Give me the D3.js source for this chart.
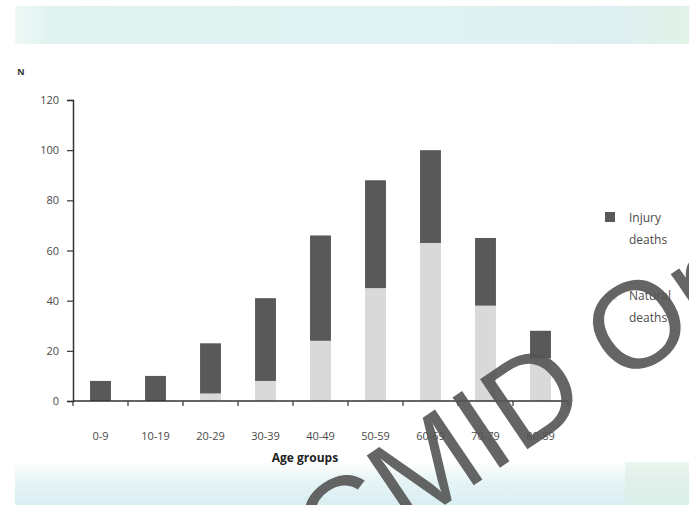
<!DOCTYPE html>
<html>
<head>
<meta charset="utf-8">
<script src="https://cdn.jsdelivr.net/npm/d3@7"></script>
<style>
  html, body { margin: 0; padding: 0; background: #ffffff; }
  svg { display: block; }
</style>
</head>
<body>
<svg id="chart" width="689" height="505"></svg>
<script>
const categories = ["0-9", "10-19", "20-29", "30-39", "40-49", "50-59", "60-69", "70-79", "80-89"];
const naturalDeaths = [0, 0, 3, 8, 24, 45, 63, 38, 17];
const injuryDeaths = [8, 10, 20, 33, 42, 43, 37, 27, 11];
const yTicks = [0, 20, 40, 60, 80, 100, 120];
const seriesNames = ["Injury deaths", "Natural deaths"];
const yLabel = "N";
const xLabel = "Age groups";
const watermark = "CMID Online";

const svg = d3.select("#chart");
const W = 689, H = 505;

// background bands
const defs = svg.append("defs");
const gTop = defs.append("linearGradient").attr("id", "topband").attr("x1", 0).attr("x2", 1).attr("y1", 0).attr("y2", 0);
gTop.append("stop").attr("offset", "0%").attr("stop-color", "#eef8f6");
gTop.append("stop").attr("offset", "5%").attr("stop-color", "#e0f3f0");
gTop.append("stop").attr("offset", "90%").attr("stop-color", "#dff0f2");
gTop.append("stop").attr("offset", "100%").attr("stop-color", "#e2f2e6");
const gBot = defs.append("linearGradient").attr("id", "botband").attr("x1", 0).attr("x2", 0).attr("y1", 0).attr("y2", 1);
gBot.append("stop").attr("offset", "0%").attr("stop-color", "#ffffff");
gBot.append("stop").attr("offset", "45%").attr("stop-color", "#e6f4f5");
gBot.append("stop").attr("offset", "100%").attr("stop-color", "#d9eef3");

svg.append("rect").attr("x", 15).attr("y", 6).attr("width", W - 15).attr("height", 38).attr("fill", "url(#topband)");
svg.append("rect").attr("x", 15).attr("y", 462).attr("width", W - 15).attr("height", 43).attr("fill", "url(#botband)");
svg.append("rect").attr("x", 625).attr("y", 462).attr("width", 64).attr("height", 43).attr("fill", "#dcefe2").attr("opacity", 0.6);

const x = d3.scaleBand().domain(categories).range([73, 568]).paddingInner(0.62).paddingOuter(0.31);
const y = d3.scaleLinear().domain([0, 120]).range([401, 100]);

const darkColor = "#595959";
const lightColor = "#d9d9d9";

// bars
const g = svg.append("g");
categories.forEach((c, i) => {
  const n = naturalDeaths[i], inj = injuryDeaths[i];
  if (n > 0) {
    g.append("rect").attr("x", x(c)).attr("width", x.bandwidth())
      .attr("y", y(n)).attr("height", y(0) - y(n)).attr("fill", lightColor);
  }
  g.append("rect").attr("x", x(c)).attr("width", x.bandwidth())
    .attr("y", y(n + inj)).attr("height", y(n) - y(n + inj)).attr("fill", darkColor);
});

// y axis
const yAxis = svg.append("g").attr("transform", "translate(73,0)")
  .call(d3.axisLeft(y).tickValues(yTicks).tickSize(6).tickPadding(8));
yAxis.select(".domain").attr("stroke", "#333").attr("stroke-width", 1.5);
yAxis.selectAll(".tick line").attr("stroke", "#333").attr("stroke-width", 1.2);
yAxis.selectAll(".tick text").attr("fill", "#4a4a4a").style("font-family", "Open Sans, sans-serif").style("font-size", "11px");

// x axis line and boundary ticks
const step = x.step();
const x0 = x.range()[0];
svg.append("line").attr("x1", x0).attr("x2", x.range()[1]).attr("y1", y(0)).attr("y2", y(0))
  .attr("stroke", "#333").attr("stroke-width", 1.5);
d3.range(categories.length + 1).forEach(i => {
  svg.append("line").attr("x1", x0 + i * step).attr("x2", x0 + i * step)
    .attr("y1", y(0)).attr("y2", y(0) + 5).attr("stroke", "#333").attr("stroke-width", 1.2);
});
svg.selectAll(".xlab").data(categories).enter().append("text")
  .attr("x", d => x(d) + x.bandwidth() / 2).attr("y", 440)
  .attr("text-anchor", "middle").attr("fill", "#4a4a4a")
  .style("font-family", "Open Sans, sans-serif").style("font-size", "11px")
  .text(d => d);

svg.append("text").attr("x", 305).attr("y", 462).attr("text-anchor", "middle")
  .attr("fill", "#222").style("font-family", "Open Sans, sans-serif").style("font-size", "12px").style("font-weight", "bold")
  .text(xLabel);
svg.append("text").attr("x", 21).attr("y", 75).attr("text-anchor", "middle")
  .attr("fill", "#333").style("font-family", "Open Sans, sans-serif").style("font-size", "9px").style("font-weight", "bold")
  .text(yLabel);

// legend
const legend = svg.append("g").attr("transform", "translate(605,212)");
legend.append("rect").attr("x", 0).attr("y", 0).attr("width", 10).attr("height", 10).attr("fill", darkColor);
legend.append("rect").attr("x", 2).attr("y", 78).attr("width", 10).attr("height", 10).attr("fill", "#ececec");
const lineY = [10, 32, 88, 110];
const words = [...seriesNames[0].split(" "), ...seriesNames[1].split(" ")];
words.forEach((w, i) => {
  legend.append("text").attr("x", 24).attr("y", lineY[i]).attr("fill", "#4a4a4a")
    .style("font-family", "Open Sans, sans-serif").style("font-size", "12px").text(w);
});

// watermark
svg.append("text")
  .attr("transform", "translate(332,581) rotate(-34)")
  .attr("fill", "#555").attr("opacity", 0.9)
  .style("font-family", "Liberation Sans, Arial, sans-serif").style("font-size", "123px")
  .text(watermark);
</script>
</body>
</html>
